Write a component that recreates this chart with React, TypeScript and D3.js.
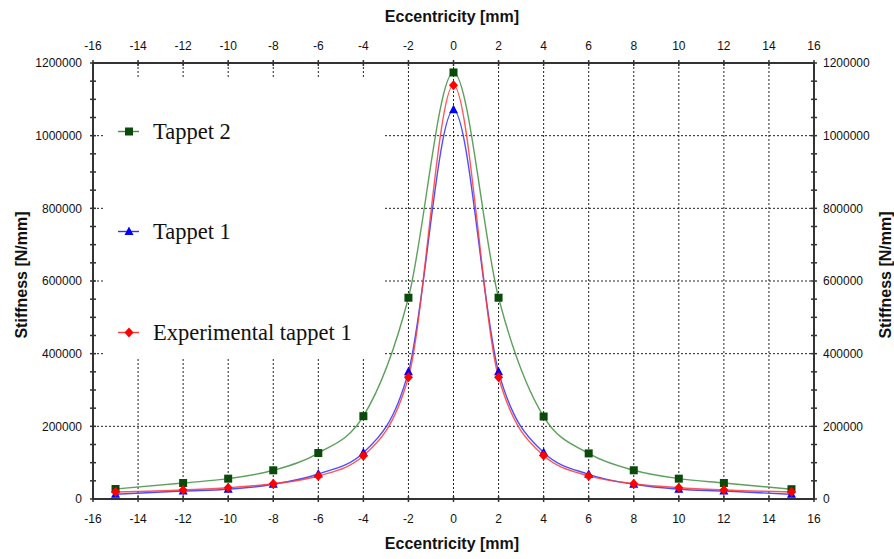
import * as d3 from "d3";

const eccentricity = [-15, -12, -10, -8, -6, -4, -2, 0, 2, 4, 6, 8, 10, 12, 15];
const tappet2 = [27500, 44000, 56000, 79000, 126500, 228000, 554000, 1174000, 554000, 227000, 125500, 79000, 56000, 44000, 27000];
const tappet1 = [13000, 22000, 26700, 40500, 68800, 127500, 350000, 1071000, 350000, 128000, 68000, 40500, 27000, 22000, 13000];
const experimental1 = [19300, 24800, 31000, 42000, 63300, 119000, 335000, 1139000, 335000, 119500, 63500, 42000, 31000, 24800, 19300];

const xTicks = d3.range(-16, 17, 2);
const yTicks = d3.range(0, 1200001, 200000);
const yMinorTicks = d3.range(0, 1200001, 50000);

const series = [
  { name: "Tappet 2", values: tappet2, line: "#3f8f3f", fill: "#0a4a0a", shape: "square", legendY: 131.5 },
  { name: "Tappet 1", values: tappet1, line: "#2f2fff", fill: "#0000ff", shape: "triangle", legendY: 231.5 },
  { name: "Experimental tappet 1", values: experimental1, line: "#ff3a3a", fill: "#ff0000", shape: "diamond", legendY: 332.5 },
];

const W = 894;
const H = 559;
const left = 93;
const right = 814;
const top = 63;
const bottom = 499;

const Marker = ({ shape, x, y, fill }: { shape: string; x: number; y: number; fill: string }) => {
  if (shape === "square") {
    return <rect x={x - 4} y={y - 4} width={8} height={8} fill={fill} />;
  }
  if (shape === "triangle") {
    return <path d={`M${x},${y - 5}L${x + 4.5},${y + 3.5}L${x - 4.5},${y + 3.5}Z`} fill={fill} />;
  }
  return <path d={`M${x},${y - 5}L${x + 4.5},${y}L${x},${y + 5}L${x - 4.5},${y}Z`} fill={fill} />;
};

export default function App() {
  const x = d3.scaleLinear().domain([-16, 16]).range([left, right]);
  const y = d3.scaleLinear().domain([0, 1200000]).range([bottom, top]);

  const line = d3
    .line<number>()
    .x((_, i) => x(eccentricity[i]))
    .y((d) => y(d))
    .curve(d3.curveMonotoneX);

  const axisColor = "#333";
  const tickFont = "Liberation Sans, Arial, sans-serif";

  return (
    <svg width={W} height={H} style={{ position: "absolute", left: 0, top: 0, background: "#fff" }}>
      {/* grid */}
      <g stroke="#222" strokeWidth={1} strokeDasharray="2,2">
        {xTicks.slice(1, -1).map((t) => (
          <line key={"gx" + t} x1={x(t)} x2={x(t)} y1={top} y2={bottom} />
        ))}
        {yTicks.slice(1, -1).map((t) => (
          <line key={"gy" + t} x1={left} x2={right} y1={y(t)} y2={y(t)} />
        ))}
      </g>

      {/* legend background hides the grid */}
      <rect x={104} y={78} width={281} height={280} fill="#fff" />

      {/* series lines */}
      {series.map((s) => (
        <path key={s.name} d={line(s.values) || ""} fill="none" stroke={s.line} strokeWidth={1.4} strokeOpacity={0.85} />
      ))}
      {series.map((s) =>
        s.values.map((v, i) => (
          <Marker key={s.name + i} shape={s.shape} x={x(eccentricity[i])} y={y(v)} fill={s.fill} />
        ))
      )}

      {/* frame */}
      <rect x={left} y={top} width={right - left} height={bottom - top} fill="none" stroke={axisColor} strokeWidth={2} />

      {/* ticks */}
      <g stroke={axisColor} strokeWidth={1.5}>
        {xTicks.map((t) => (
          <g key={"xt" + t}>
            <line x1={x(t)} x2={x(t)} y1={top - 3} y2={top + 3} />
            <line x1={x(t)} x2={x(t)} y1={bottom - 3} y2={bottom + 3} />
          </g>
        ))}
        {yMinorTicks.map((t) => (
          <g key={"yt" + t}>
            <line x1={left - 3} x2={left + 3} y1={y(t)} y2={y(t)} />
            <line x1={right - 3} x2={right + 3} y1={y(t)} y2={y(t)} />
          </g>
        ))}
      </g>

      <g fontFamily={tickFont} fontSize={12} fill="#111">
        {xTicks.map((t) => (
          <g key={"xl" + t}>
            <text x={x(t)} y={50} textAnchor="middle">{t}</text>
            <text x={x(t)} y={523} textAnchor="middle">{t}</text>
          </g>
        ))}
        {yTicks.map((t) => (
          <g key={"yl" + t}>
            <text x={left - 11} y={y(t)} dy="0.35em" textAnchor="end">{t}</text>
            <text x={right + 9} y={y(t)} dy="0.35em" textAnchor="start">{t}</text>
          </g>
        ))}
      </g>

      {/* axis titles */}
      <g fontFamily={tickFont} fontSize={16} fontWeight="bold" fill="#111">
        <text x={452} y={22} textAnchor="middle">Eccentricity [mm]</text>
        <text x={452} y={549} textAnchor="middle">Eccentricity [mm]</text>
        <text transform="translate(26.5,275) rotate(-90)" textAnchor="middle">Stiffness [N/mm]</text>
        <text transform="translate(891,275) rotate(-90)" textAnchor="middle">Stiffness [N/mm]</text>
      </g>

      {/* legend */}
      {series.map((s) => (
        <g key={"lg" + s.name}>
          <line x1={118} x2={139} y1={s.legendY} y2={s.legendY} stroke={s.line} strokeWidth={1.4} />
          <Marker shape={s.shape} x={129} y={s.legendY} fill={s.fill} />
          <text x={153} y={s.legendY} dy="0.33em" fontFamily="Liberation Serif, Times New Roman, serif" fontSize={22.5} fill="#111">
            {s.name}
          </text>
        </g>
      ))}
    </svg>
  );
}
